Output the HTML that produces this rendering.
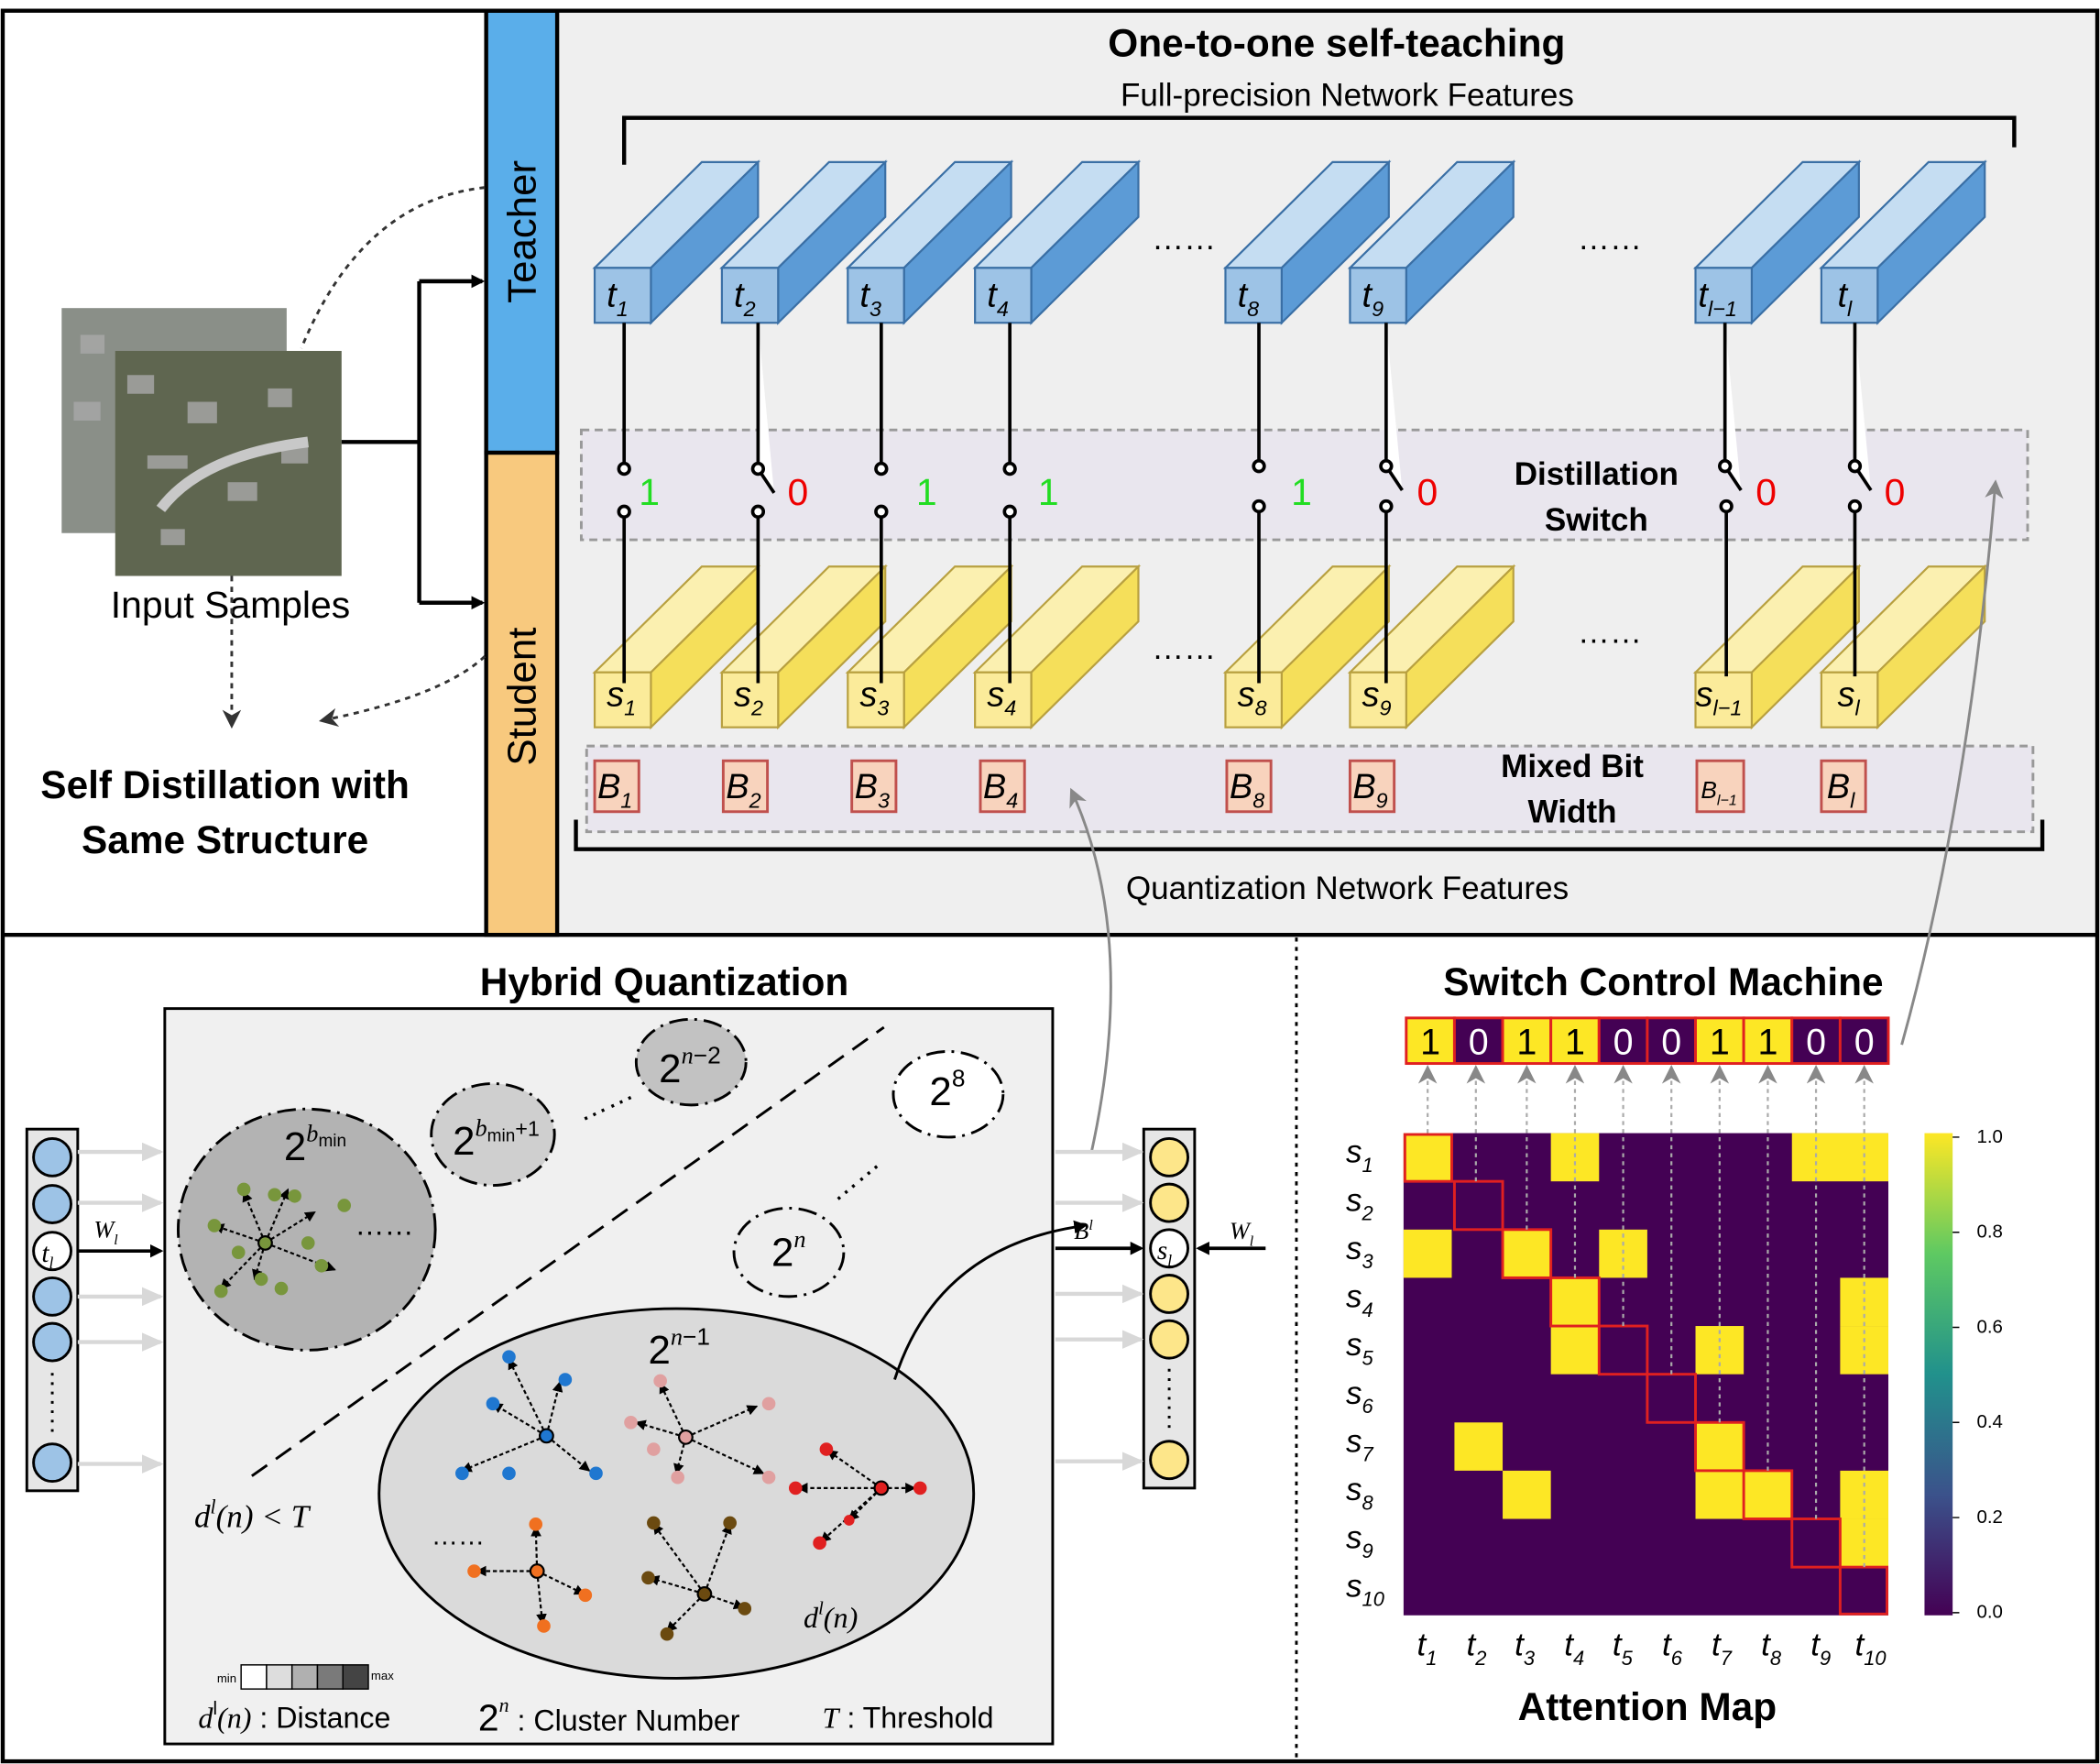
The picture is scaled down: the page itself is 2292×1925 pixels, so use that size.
<!DOCTYPE html>
<html><head><meta charset="utf-8"><style>
html,body{margin:0;padding:0;background:#fff}
svg{display:block}
text{font-family:"Liberation Sans","DejaVu Sans",sans-serif}
.b{font-weight:bold}
.it{font-style:italic;font-family:"Liberation Serif",serif}
</style></head><body>
<svg width="2292" height="1925" viewBox="0 0 1568 1317" xmlns="http://www.w3.org/2000/svg">
<defs>
<marker id="ah" markerWidth="10" markerHeight="10" refX="8" refY="5" orient="auto" markerUnits="userSpaceOnUse"><path d="M0,0 L10,5 L0,10 z" fill="#000"/></marker>
<marker id="ahd" markerWidth="14" markerHeight="14" refX="12" refY="7" orient="auto" markerUnits="userSpaceOnUse"><path d="M0,0 L14,7 L0,14 L4,7 z" fill="#333"/></marker>
<marker id="ahg" markerWidth="14" markerHeight="14" refX="12" refY="7" orient="auto" markerUnits="userSpaceOnUse"><path d="M0,0 L14,7 L0,14 L4,7 z" fill="#888"/></marker>
<marker id="ahl" markerWidth="16" markerHeight="14" refX="14" refY="7" orient="auto" markerUnits="userSpaceOnUse"><path d="M0,0 L16,7 L0,14 z" fill="#d8d8d8"/></marker>
<marker id="as" markerWidth="8" markerHeight="8" refX="7" refY="4" orient="auto" markerUnits="userSpaceOnUse"><path d="M0,0 L8,4 L0,8 z" fill="#000"/></marker>
</defs>
<rect x="0" y="0" width="1568" height="1317" fill="#fff"/>
<!-- top right panel -->
<rect x="416" y="8" width="1150" height="690" fill="#efefef"/>
<rect x="363" y="8" width="53" height="330" fill="#5aaeea" stroke="#000" stroke-width="3"/>
<rect x="363" y="338" width="53" height="360" fill="#f8c97e" stroke="#000" stroke-width="3"/>
<text x="400" y="173" font-size="30" transform="rotate(-90 400 173)" text-anchor="middle">Teacher</text>
<text x="400" y="520" font-size="30" transform="rotate(-90 400 520)" text-anchor="middle">Student</text>
<rect x="2" y="8" width="1564" height="1307" fill="none" stroke="#000" stroke-width="3"/>
<line x1="2" y1="698" x2="1566" y2="698" stroke="#000" stroke-width="3"/>
<line x1="968" y1="700" x2="968" y2="1315" stroke="#000" stroke-width="2" stroke-dasharray="3,4"/>

<!-- input samples -->
<rect x="46" y="230" width="168" height="168" fill="#8a8f88"/>
<rect x="86" y="262" width="169" height="168" fill="#5f6650"/>
<g fill="#a9a9a9" opacity="0.8">
<rect x="95" y="280" width="20" height="14"/><rect x="140" y="300" width="22" height="16"/><rect x="200" y="290" width="18" height="14"/><rect x="110" y="340" width="30" height="10"/><rect x="170" y="360" width="22" height="14"/><rect x="210" y="330" width="20" height="16"/><rect x="120" y="395" width="18" height="12"/><rect x="60" y="250" width="18" height="14"/><rect x="55" y="300" width="20" height="14"/></g>
<path d="M120,380 Q150,340 230,330" stroke="#c8c8c8" stroke-width="8" fill="none"/>
<text x="172" y="461" font-size="28" text-anchor="middle">Input Samples</text>
<path d="M255,330 H313 M313,210 V450 M313,210 H360 M313,450 H360" stroke="#000" stroke-width="3" fill="none"/>
<path d="M313,210 H360" stroke="#000" stroke-width="3" marker-end="url(#ah)"/>
<path d="M313,450 H360" stroke="#000" stroke-width="3" marker-end="url(#ah)"/>
<path d="M362,140 Q270,150 225,260" stroke="#333" stroke-width="2" stroke-dasharray="4,4" fill="none"/>
<path d="M173,430 V542" stroke="#333" stroke-width="2" stroke-dasharray="4,4" fill="none" marker-end="url(#ahd)"/>
<path d="M362,490 Q330,520 240,538" stroke="#333" stroke-width="2" stroke-dasharray="4,4" fill="none" marker-end="url(#ahd)"/>
<text x="168" y="596" font-size="29" class="b" text-anchor="middle">Self Distillation with</text>
<text x="168" y="637" font-size="29" class="b" text-anchor="middle">Same Structure</text>

<!-- top right titles -->
<text x="998" y="42" font-size="29" class="b" text-anchor="middle">One-to-one self-teaching</text>
<text x="1006" y="79" font-size="24" text-anchor="middle">Full-precision Network Features</text>
<path d="M466,123 V88 H1504 V110" stroke="#000" stroke-width="3" fill="none"/>
<rect x="434" y="321" width="1080" height="82" fill="#e9e6ee" stroke="#999" stroke-width="2" stroke-dasharray="6,4"/>
<rect x="438" y="557" width="1080" height="64" fill="#e9e6ee" stroke="#999" stroke-width="2" stroke-dasharray="6,4"/>
<path d="M430,612 V634 H1525 V612" stroke="#000" stroke-width="3" fill="none"/>
<text x="1006" y="671" font-size="24" text-anchor="middle">Quantization Network Features</text>
<text x="1192" y="362" font-size="24" class="b" text-anchor="middle">Distillation</text>
<text x="1192" y="396" font-size="24" class="b" text-anchor="middle">Switch</text>
<text x="1174" y="580" font-size="24" class="b" text-anchor="middle">Mixed Bit</text>
<text x="1174" y="614" font-size="24" class="b" text-anchor="middle">Width</text>
<text x="884" y="186" font-size="24" text-anchor="middle">……</text>
<text x="1202" y="186" font-size="24" text-anchor="middle">……</text>
<text x="884" y="492" font-size="24" text-anchor="middle">……</text>
<text x="1202" y="480" font-size="24" text-anchor="middle">……</text>

<g id="cubes">
<!-- generated: teacher & student cubes -->
</g>
<g stroke="#3a6fa5" stroke-width="1.5">
<!-- teacher cubes -->
<g><polygon points="444,200 524,121 566,121 486,200" fill="#c5ddf2"/><polygon points="486,200 566,121 566,162 486,241" fill="#5c9bd6"/><rect x="444" y="200" width="42" height="41" fill="#9dc3e6"/></g>
<g><polygon points="539,200 619,121 661,121 581,200" fill="#c5ddf2"/><polygon points="581,200 661,121 661,162 581,241" fill="#5c9bd6"/><rect x="539" y="200" width="42" height="41" fill="#9dc3e6"/></g>
<g><polygon points="633,200 713,121 755,121 675,200" fill="#c5ddf2"/><polygon points="675,200 755,121 755,162 675,241" fill="#5c9bd6"/><rect x="633" y="200" width="42" height="41" fill="#9dc3e6"/></g>
<g><polygon points="728,200 808,121 850,121 770,200" fill="#c5ddf2"/><polygon points="770,200 850,121 850,162 770,241" fill="#5c9bd6"/><rect x="728" y="200" width="42" height="41" fill="#9dc3e6"/></g>
<g><polygon points="915,200 995,121 1037,121 957,200" fill="#c5ddf2"/><polygon points="957,200 1037,121 1037,162 957,241" fill="#5c9bd6"/><rect x="915" y="200" width="42" height="41" fill="#9dc3e6"/></g>
<g><polygon points="1008,200 1088,121 1130,121 1050,200" fill="#c5ddf2"/><polygon points="1050,200 1130,121 1130,162 1050,241" fill="#5c9bd6"/><rect x="1008" y="200" width="42" height="41" fill="#9dc3e6"/></g>
<g><polygon points="1266,200 1346,121 1388,121 1308,200" fill="#c5ddf2"/><polygon points="1308,200 1388,121 1388,162 1308,241" fill="#5c9bd6"/><rect x="1266" y="200" width="42" height="41" fill="#9dc3e6"/></g>
<g><polygon points="1360,200 1440,121 1482,121 1402,200" fill="#c5ddf2"/><polygon points="1402,200 1482,121 1482,162 1402,241" fill="#5c9bd6"/><rect x="1360" y="200" width="42" height="41" fill="#9dc3e6"/></g>
</g>
<g stroke="#b8a040" stroke-width="1.5">
<g><polygon points="444,502 524,423 566,423 486,502" fill="#fbf0b0"/><polygon points="486,502 566,423 566,464 486,543" fill="#f5df5a"/><rect x="444" y="502" width="42" height="41" fill="#fbeb9a"/></g>
<g><polygon points="539,502 619,423 661,423 581,502" fill="#fbf0b0"/><polygon points="581,502 661,423 661,464 581,543" fill="#f5df5a"/><rect x="539" y="502" width="42" height="41" fill="#fbeb9a"/></g>
<g><polygon points="633,502 713,423 755,423 675,502" fill="#fbf0b0"/><polygon points="675,502 755,423 755,464 675,543" fill="#f5df5a"/><rect x="633" y="502" width="42" height="41" fill="#fbeb9a"/></g>
<g><polygon points="728,502 808,423 850,423 770,502" fill="#fbf0b0"/><polygon points="770,502 850,423 850,464 770,543" fill="#f5df5a"/><rect x="728" y="502" width="42" height="41" fill="#fbeb9a"/></g>
<g><polygon points="915,502 995,423 1037,423 957,502" fill="#fbf0b0"/><polygon points="957,502 1037,423 1037,464 957,543" fill="#f5df5a"/><rect x="915" y="502" width="42" height="41" fill="#fbeb9a"/></g>
<g><polygon points="1008,502 1088,423 1130,423 1050,502" fill="#fbf0b0"/><polygon points="1050,502 1130,423 1130,464 1050,543" fill="#f5df5a"/><rect x="1008" y="502" width="42" height="41" fill="#fbeb9a"/></g>
<g><polygon points="1266,502 1346,423 1388,423 1308,502" fill="#fbf0b0"/><polygon points="1308,502 1388,423 1388,464 1308,543" fill="#f5df5a"/><rect x="1266" y="502" width="42" height="41" fill="#fbeb9a"/></g>
<g><polygon points="1360,502 1440,423 1482,423 1402,502" fill="#fbf0b0"/><polygon points="1402,502 1482,423 1482,464 1402,543" fill="#f5df5a"/><rect x="1360" y="502" width="42" height="41" fill="#fbeb9a"/></g>
</g>
<g font-size="26" class="it">
<text x="453" y="229">t<tspan font-size="16" dy="7">1</tspan></text>
<text x="548" y="229">t<tspan font-size="16" dy="7">2</tspan></text>
<text x="642" y="229">t<tspan font-size="16" dy="7">3</tspan></text>
<text x="737" y="229">t<tspan font-size="16" dy="7">4</tspan></text>
<text x="924" y="229">t<tspan font-size="16" dy="7">8</tspan></text>
<text x="1017" y="229">t<tspan font-size="16" dy="7">9</tspan></text>
<text x="1268" y="229">t<tspan font-size="16" dy="7">l−1</tspan></text>
<text x="1372" y="229">t<tspan font-size="16" dy="7">l</tspan></text>
<text x="453" y="527">s<tspan font-size="16" dy="7">1</tspan></text>
<text x="548" y="527">s<tspan font-size="16" dy="7">2</tspan></text>
<text x="642" y="527">s<tspan font-size="16" dy="7">3</tspan></text>
<text x="737" y="527">s<tspan font-size="16" dy="7">4</tspan></text>
<text x="924" y="527">s<tspan font-size="16" dy="7">8</tspan></text>
<text x="1017" y="527">s<tspan font-size="16" dy="7">9</tspan></text>
<text x="1266" y="527">s<tspan font-size="16" dy="7">l−1</tspan></text>
<text x="1372" y="527">s<tspan font-size="16" dy="7">l</tspan></text>
</g>
<!-- switch lines -->
<g stroke="#000" stroke-width="2.5" fill="#fff">
<path d="M466,241 V350 M466,382 V510"/><circle cx="466" cy="350" r="4"/><circle cx="466" cy="382" r="4"/>
<path d="M566,241 V350 L578,368 M566,382 V510"/><circle cx="566" cy="350" r="4"/><circle cx="566" cy="382" r="4"/>
<path d="M658,241 V350 M658,382 V510"/><circle cx="658" cy="350" r="4"/><circle cx="658" cy="382" r="4"/>
<path d="M754,241 V350 M754,382 V510"/><circle cx="754" cy="350" r="4"/><circle cx="754" cy="382" r="4"/>
<path d="M940,241 V348 M940,378 V510"/><circle cx="940" cy="348" r="4"/><circle cx="940" cy="378" r="4"/>
<path d="M1035,241 V348 L1047,366 M1035,378 V510"/><circle cx="1035" cy="348" r="4"/><circle cx="1035" cy="378" r="4"/>
<path d="M1288,241 V348 L1300,366 M1289,378 V505"/><circle cx="1288" cy="348" r="4"/><circle cx="1289" cy="378" r="4"/>
<path d="M1385,241 V348 L1397,366 M1385,378 V505"/><circle cx="1385" cy="348" r="4"/><circle cx="1385" cy="378" r="4"/>
</g>
<g font-size="28">
<text x="477" y="377" fill="#22dd22">1</text><text x="588" y="377" fill="#ee0000">0</text>
<text x="684" y="377" fill="#22dd22">1</text><text x="775" y="377" fill="#22dd22">1</text>
<text x="964" y="377" fill="#22dd22">1</text><text x="1058" y="377" fill="#ee0000">0</text>
<text x="1311" y="377" fill="#ee0000">0</text><text x="1407" y="377" fill="#ee0000">0</text>
</g>
<!-- B boxes -->
<g fill="#f8d3bd" stroke="#c0504d" stroke-width="2">
<rect x="444" y="568" width="33" height="38"/><rect x="540" y="568" width="33" height="38"/><rect x="636" y="568" width="33" height="38"/><rect x="732" y="568" width="33" height="38"/>
<rect x="916" y="568" width="33" height="38"/><rect x="1008" y="568" width="33" height="38"/><rect x="1267" y="568" width="35" height="38"/><rect x="1360" y="568" width="33" height="38"/>
</g>
<g font-size="26" class="it">
<text x="446" y="596">B<tspan font-size="16" dy="7">1</tspan></text><text x="542" y="596">B<tspan font-size="16" dy="7">2</tspan></text>
<text x="638" y="596">B<tspan font-size="16" dy="7">3</tspan></text><text x="734" y="596">B<tspan font-size="16" dy="7">4</tspan></text>
<text x="918" y="596">B<tspan font-size="16" dy="7">8</tspan></text><text x="1010" y="596">B<tspan font-size="16" dy="7">9</tspan></text>
<text x="1270" y="596" font-size="18">B<tspan font-size="11" dy="5">l−1</tspan></text><text x="1364" y="596">B<tspan font-size="16" dy="7">l</tspan></text>
</g>
<!-- gray long arrows -->
<path d="M815,860 Q850,700 800,590" stroke="#888" stroke-width="2" fill="none" marker-end="url(#ahg)"/>
<path d="M1420,780 Q1470,600 1490,360" stroke="#888" stroke-width="2" fill="none" marker-end="url(#ahg)"/>

<!-- Hybrid quantization -->
<text x="496" y="743" font-size="29" class="b" text-anchor="middle">Hybrid Quantization</text>
<rect x="123" y="753" width="663" height="549" fill="#f0f0f0" stroke="#000" stroke-width="2"/>
<line x1="188" y1="1102" x2="660" y2="767" stroke="#000" stroke-width="2" stroke-dasharray="14,8"/>
<ellipse cx="229" cy="918" rx="96" ry="90" fill="#b3b3b3" stroke="#000" stroke-width="2" stroke-dasharray="14,5,2,5"/>
<ellipse cx="368" cy="847" rx="46" ry="38" fill="#cfcfcf" stroke="#000" stroke-width="2" stroke-dasharray="14,5,2,5"/>
<ellipse cx="516" cy="793" rx="41" ry="32" fill="#c2c2c2" stroke="#000" stroke-width="2" stroke-dasharray="14,5,2,5"/>
<ellipse cx="708" cy="817" rx="41" ry="32" fill="#fff" stroke="#000" stroke-width="2" stroke-dasharray="14,5,2,5"/>
<ellipse cx="589" cy="935" rx="41" ry="33" fill="#eee" stroke="#000" stroke-width="2" stroke-dasharray="14,5,2,5"/>
<ellipse cx="505" cy="1115" rx="222" ry="138" fill="#dadada" stroke="#000" stroke-width="2"/>
<g font-size="30" font-family="Liberation Sans">
<text x="212" y="866">2<tspan font-size="18" dy="-14" class="it">b</tspan><tspan font-size="13" dy="4">min</tspan></text>
<text x="338" y="862">2<tspan font-size="18" dy="-14" class="it">b</tspan><tspan font-size="13" dy="4">min</tspan><tspan font-size="16" dy="-4">+1</tspan></text>
<text x="492" y="808">2<tspan font-size="18" dy="-14" class="it">n</tspan><tspan font-size="18">−2</tspan></text>
<text x="694" y="825">2<tspan font-size="18" dy="-14">8</tspan></text>
<text x="576" y="945">2<tspan font-size="18" dy="-14" class="it">n</tspan></text>
<text x="484" y="1018">2<tspan font-size="18" dy="-14" class="it">n</tspan><tspan font-size="18">−1</tspan></text>
</g>
<text x="265" y="922" font-size="22">……</text>
<text x="430" y="832" font-size="22" transform="rotate(-25 445 825)">……</text>
<text x="614" y="890" font-size="22" transform="rotate(-40 630 880)">……</text>
<text x="322" y="1153" font-size="20">……</text>
<!-- clusters -->
<g stroke="#000" stroke-width="1.5" stroke-dasharray="3,2" marker-end="url(#as)">
<path d="M198,928 L182,890"/><path d="M198,928 L160,915"/><path d="M198,928 L165,962"/><path d="M198,928 L235,905"/><path d="M198,928 L250,948"/><path d="M198,928 L215,888"/><path d="M198,928 L190,955"/>
<path d="M408,1072 L380,1015"/><path d="M408,1072 L345,1098"/><path d="M408,1072 L440,1098"/><path d="M408,1072 L418,1032"/><path d="M408,1072 L368,1048"/>
<path d="M512,1073 L493,1033"/><path d="M512,1073 L475,1062"/><path d="M512,1073 L565,1050"/><path d="M512,1073 L570,1100"/><path d="M512,1073 L505,1100"/>
<path d="M658,1111 L618,1083"/><path d="M658,1111 L596,1111"/><path d="M658,1111 L683,1111"/><path d="M658,1111 L613,1151"/><path d="M658,1111 L634,1135"/>
<path d="M401,1173 L400,1140"/><path d="M401,1173 L356,1173"/><path d="M401,1173 L436,1190"/><path d="M401,1173 L405,1212"/>
<path d="M526,1190 L488,1138"/><path d="M526,1190 L485,1178"/><path d="M526,1190 L545,1138"/><path d="M526,1190 L555,1200"/><path d="M526,1190 L498,1218"/>
</g>
<g fill="#78963c"><circle cx="182" cy="888" r="5"/><circle cx="205" cy="892" r="5"/><circle cx="220" cy="893" r="5"/><circle cx="160" cy="915" r="5"/><circle cx="165" cy="964" r="5"/><circle cx="195" cy="955" r="5"/><circle cx="210" cy="962" r="5"/><circle cx="230" cy="928" r="5"/><circle cx="240" cy="945" r="5"/><circle cx="257" cy="900" r="5"/><circle cx="178" cy="935" r="5"/><circle cx="198" cy="928" r="5" stroke="#000" stroke-width="1.5"/></g>
<g fill="#1f77d0"><circle cx="380" cy="1013" r="5"/><circle cx="422" cy="1030" r="5"/><circle cx="368" cy="1048" r="5"/><circle cx="345" cy="1100" r="5"/><circle cx="380" cy="1100" r="5"/><circle cx="445" cy="1100" r="5"/><circle cx="408" cy="1072" r="5" stroke="#000" stroke-width="1.5"/></g>
<g fill="#e0a0a0"><circle cx="493" cy="1031" r="5"/><circle cx="471" cy="1062" r="5"/><circle cx="488" cy="1082" r="5"/><circle cx="574" cy="1048" r="5"/><circle cx="574" cy="1103" r="5"/><circle cx="506" cy="1103" r="5"/><circle cx="512" cy="1073" r="5" stroke="#000" stroke-width="1.5"/></g>
<g fill="#e02020"><circle cx="617" cy="1082" r="5"/><circle cx="594" cy="1111" r="5"/><circle cx="687" cy="1111" r="5"/><circle cx="612" cy="1152" r="5"/><circle cx="634" cy="1135" r="4"/><circle cx="658" cy="1111" r="5" stroke="#000" stroke-width="1.5"/></g>
<g fill="#f07020"><circle cx="400" cy="1138" r="5"/><circle cx="354" cy="1173" r="5"/><circle cx="437" cy="1191" r="5"/><circle cx="406" cy="1214" r="5"/><circle cx="401" cy="1173" r="5" stroke="#000" stroke-width="1.5"/></g>
<g fill="#6b4a10"><circle cx="488" cy="1137" r="5"/><circle cx="545" cy="1137" r="5"/><circle cx="484" cy="1178" r="5"/><circle cx="556" cy="1201" r="5"/><circle cx="498" cy="1220" r="5"/><circle cx="526" cy="1190" r="5" stroke="#000" stroke-width="1.5"/></g>
<text x="600" y="1215" font-size="22" class="it">d<tspan font-size="14" dy="-10">l</tspan><tspan dy="10">(n)</tspan></text>
<text x="145" y="1140" font-size="24" class="it">d<tspan font-size="15" dy="-10">l</tspan><tspan dy="10">(n) &lt; T</tspan></text>
<path d="M668,1030 Q700,930 810,915" stroke="#000" stroke-width="2" fill="none" marker-end="url(#ah)"/>
<!-- legend -->
<text x="162" y="1256" font-size="9">min</text><text x="277" y="1254" font-size="9">max</text>
<rect x="180" y="1243" width="19" height="18" fill="#fff" stroke="#000"/><rect x="199" y="1243" width="19" height="18" fill="#ddd" stroke="#000"/><rect x="218" y="1243" width="19" height="18" fill="#b0b0b0" stroke="#000"/><rect x="237" y="1243" width="19" height="18" fill="#7a7a7a" stroke="#000"/><rect x="256" y="1243" width="19" height="18" fill="#444" stroke="#000"/>
<text x="148" y="1290" font-size="22"><tspan class="it">d</tspan><tspan font-size="14" dy="-10">l</tspan><tspan dy="10" class="it">(n)</tspan>  : Distance</text>
<text x="357" y="1292" font-size="22"><tspan font-size="28">2</tspan><tspan font-size="15" dy="-14" class="it">n</tspan><tspan dy="14"> : Cluster Number</tspan></text>
<text x="614" y="1290" font-size="22"><tspan class="it">T</tspan> : Threshold</text>
<!-- left column of neurons -->
<rect x="20" y="843" width="38" height="270" fill="#e6e6e6" stroke="#000" stroke-width="2"/>
<g fill="#9dc3e6" stroke="#000" stroke-width="2"><circle cx="39" cy="864" r="14"/><circle cx="39" cy="899" r="14"/><circle cx="39" cy="968" r="14"/><circle cx="39" cy="1002" r="14"/><circle cx="39" cy="1092" r="14"/></g>
<circle cx="39" cy="934" r="14" fill="#fff" stroke="#000" stroke-width="2"/><text x="31" y="942" font-size="20" class="it">t<tspan font-size="12" dy="5">l</tspan></text>
<line x1="39" y1="1025" x2="39" y2="1070" stroke="#000" stroke-width="2" stroke-dasharray="2,5"/>
<g stroke="#d8d8d8" stroke-width="3" marker-end="url(#ahl)"><path d="M58,860 H120"/><path d="M58,898 H120"/><path d="M58,968 H120"/><path d="M58,1002 H120"/><path d="M58,1093 H120"/></g>
<path d="M58,934 H120" stroke="#000" stroke-width="2.5" marker-end="url(#ah)"/>
<text x="70" y="924" font-size="18" class="it">W<tspan font-size="11" dy="5">l</tspan></text>
<!-- right column -->
<rect x="854" y="843" width="38" height="268" fill="#e6e6e6" stroke="#000" stroke-width="2"/>
<g fill="#fde68a" stroke="#000" stroke-width="2"><circle cx="873" cy="864" r="14"/><circle cx="873" cy="898" r="14"/><circle cx="873" cy="966" r="14"/><circle cx="873" cy="1000" r="14"/><circle cx="873" cy="1090" r="14"/></g>
<circle cx="873" cy="932" r="14" fill="#fff" stroke="#000" stroke-width="2"/><text x="864" y="940" font-size="20" class="it">s<tspan font-size="12" dy="5">l</tspan></text>
<line x1="873" y1="1022" x2="873" y2="1068" stroke="#000" stroke-width="2" stroke-dasharray="2,5"/>
<g stroke="#d8d8d8" stroke-width="3" marker-end="url(#ahl)"><path d="M788,860 H852"/><path d="M788,898 H852"/><path d="M788,966 H852"/><path d="M788,1000 H852"/><path d="M788,1091 H852"/></g>
<path d="M788,932 H852" stroke="#000" stroke-width="2.5" marker-end="url(#ah)"/>
<text x="802" y="925" font-size="18" class="it">B<tspan font-size="11" dy="-7">l</tspan></text>
<path d="M945,932 H895" stroke="#000" stroke-width="2.5" marker-end="url(#ah)"/>
<text x="918" y="925" font-size="18" class="it">W<tspan font-size="11" dy="5">l</tspan></text>

<!-- Switch control machine -->
<text x="1242" y="743" font-size="29" class="b" text-anchor="middle">Switch Control Machine</text>
<g stroke="#e02020" stroke-width="2" font-size="26">
<rect x="1050" y="760" width="36" height="34" fill="#fde725"/><rect x="1086" y="760" width="36" height="34" fill="#440154"/><rect x="1122" y="760" width="36" height="34" fill="#fde725"/><rect x="1158" y="760" width="36" height="34" fill="#fde725"/><rect x="1194" y="760" width="36" height="34" fill="#440154"/><rect x="1230" y="760" width="36" height="34" fill="#440154"/><rect x="1266" y="760" width="36" height="34" fill="#fde725"/><rect x="1302" y="760" width="36" height="34" fill="#fde725"/><rect x="1338" y="760" width="36" height="34" fill="#440154"/><rect x="1374" y="760" width="36" height="34" fill="#440154"/>
</g>
<g font-size="27" text-anchor="middle">
<text x="1068" y="787">1</text><text x="1104" y="787" fill="#fff">0</text><text x="1140" y="787">1</text><text x="1176" y="787">1</text><text x="1212" y="787" fill="#fff">0</text><text x="1248" y="787" fill="#fff">0</text><text x="1284" y="787">1</text><text x="1320" y="787">1</text><text x="1356" y="787" fill="#fff">0</text><text x="1392" y="787" fill="#fff">0</text>
</g>
<!-- heatmap -->
<rect x="1048" y="846" width="362" height="360" fill="#440154"/>
<g fill="#fde725">
<rect x="1048" y="846" width="36" height="36"/><rect x="1158" y="846" width="36" height="36"/><rect x="1338" y="846" width="72" height="36"/>
<rect x="1048" y="918" width="36" height="36"/><rect x="1122" y="918" width="36" height="36"/><rect x="1194" y="918" width="36" height="36"/>
<rect x="1158" y="954" width="36" height="36"/><rect x="1374" y="954" width="36" height="36"/>
<rect x="1158" y="990" width="36" height="36"/><rect x="1266" y="990" width="36" height="36"/><rect x="1374" y="990" width="36" height="36"/>
<rect x="1086" y="1062" width="36" height="36"/><rect x="1266" y="1062" width="36" height="36"/>
<rect x="1122" y="1098" width="36" height="36"/><rect x="1266" y="1098" width="72" height="36"/><rect x="1374" y="1098" width="36" height="36"/>
<rect x="1374" y="1134" width="36" height="36"/>
</g>
<g fill="none" stroke="#e02020" stroke-width="2">
<rect x="1049" y="847" width="35" height="35"/><rect x="1086" y="882" width="36" height="36"/><rect x="1122" y="918" width="36" height="36"/><rect x="1158" y="954" width="36" height="36"/><rect x="1194" y="990" width="36" height="36"/><rect x="1230" y="1026" width="36" height="36"/><rect x="1266" y="1062" width="36" height="36"/><rect x="1302" y="1098" width="36" height="36"/><rect x="1338" y="1134" width="36" height="36"/><rect x="1374" y="1170" width="35" height="35"/>
</g>
<g stroke="#aaa" stroke-width="1.5" stroke-dasharray="3,3" marker-end="url(#ahg)">
<path d="M1066,846 V797"/><path d="M1102,882 V797"/><path d="M1140,918 V797"/><path d="M1176,954 V797"/><path d="M1212,990 V797"/><path d="M1248,1026 V797"/><path d="M1284,1062 V797"/><path d="M1320,1098 V797"/><path d="M1356,1134 V797"/><path d="M1392,1170 V797"/>
</g>
<g font-size="24" class="it">
<text x="1005" y="868">s<tspan font-size="15" dy="7">1</tspan></text><text x="1005" y="904">s<tspan font-size="15" dy="7">2</tspan></text><text x="1005" y="940">s<tspan font-size="15" dy="7">3</tspan></text><text x="1005" y="976">s<tspan font-size="15" dy="7">4</tspan></text><text x="1005" y="1012">s<tspan font-size="15" dy="7">5</tspan></text><text x="1005" y="1048">s<tspan font-size="15" dy="7">6</tspan></text><text x="1005" y="1084">s<tspan font-size="15" dy="7">7</tspan></text><text x="1005" y="1120">s<tspan font-size="15" dy="7">8</tspan></text><text x="1005" y="1156">s<tspan font-size="15" dy="7">9</tspan></text><text x="1005" y="1192">s<tspan font-size="15" dy="7">10</tspan></text>
<text x="1058" y="1236">t<tspan font-size="15" dy="7">1</tspan></text><text x="1095" y="1236">t<tspan font-size="15" dy="7">2</tspan></text><text x="1131" y="1236">t<tspan font-size="15" dy="7">3</tspan></text><text x="1168" y="1236">t<tspan font-size="15" dy="7">4</tspan></text><text x="1204" y="1236">t<tspan font-size="15" dy="7">5</tspan></text><text x="1241" y="1236">t<tspan font-size="15" dy="7">6</tspan></text><text x="1278" y="1236">t<tspan font-size="15" dy="7">7</tspan></text><text x="1315" y="1236">t<tspan font-size="15" dy="7">8</tspan></text><text x="1352" y="1236">t<tspan font-size="15" dy="7">9</tspan></text><text x="1385" y="1236">t<tspan font-size="15" dy="7">10</tspan></text>
</g>
<text x="1230" y="1284" font-size="29" class="b" text-anchor="middle">Attention Map</text>
<defs><linearGradient id="vir" x1="0" y1="1" x2="0" y2="0">
<stop offset="0" stop-color="#440154"/><stop offset="0.25" stop-color="#3b528b"/><stop offset="0.5" stop-color="#21918c"/><stop offset="0.75" stop-color="#5ec962"/><stop offset="1" stop-color="#fde725"/></linearGradient></defs>
<rect x="1437" y="846" width="21" height="360" fill="url(#vir)"/>
<g font-size="14"><text x="1476" y="853">1.0</text><text x="1476" y="924">0.8</text><text x="1476" y="995">0.6</text><text x="1476" y="1066">0.4</text><text x="1476" y="1137">0.2</text><text x="1476" y="1208">0.0</text></g>
<g stroke="#000"><path d="M1458,849 h5 M1458,920 h5 M1458,991 h5 M1458,1062 h5 M1458,1133 h5 M1458,1204 h5"/></g>
</svg>
</body></html>
